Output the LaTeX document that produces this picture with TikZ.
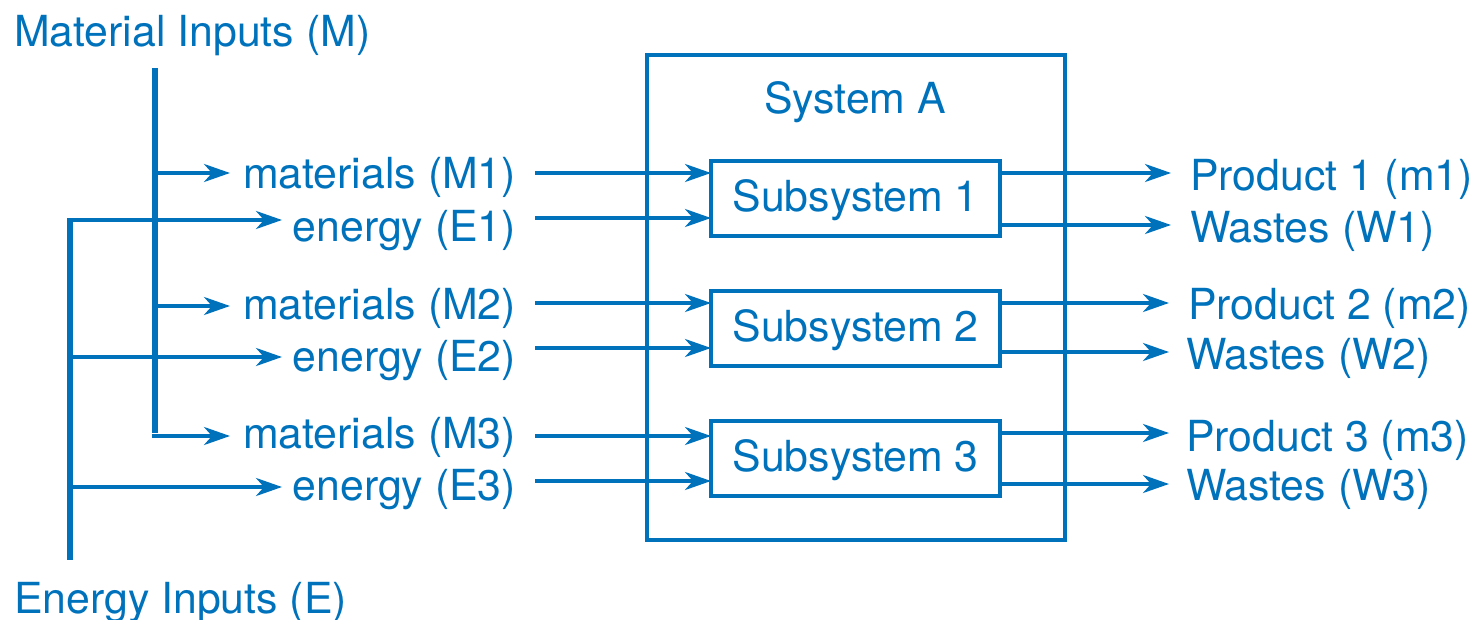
\documentclass[tikz,border=0pt]{standalone}
\usepackage{fontspec}
\setmainfont{TeX Gyre Heros}
\usetikzlibrary{arrows.meta}
\definecolor{flowblue}{RGB}{0,114,188}
\begin{document}
\begin{tikzpicture}[x=1bp,y=-1bp,
  every node/.style={text=flowblue, font=\fontsize{42.8bp}{50bp}\selectfont, inner sep=0pt, outer sep=0pt},
  arr/.style={draw=flowblue, line width=3.6bp, -{Stealth[length=26bp,width=18bp,inset=8bp]}},
  rail/.style={draw=flowblue, line width=5.5bp},
  outerbox/.style={draw=flowblue, line width=4bp},
  subbox/.style={draw=flowblue, line width=3.5bp, minimum width=289bp, minimum height=75bp},
  lblin/.style={anchor=base east},
  lblout/.style={anchor=base west}]
\useasboundingbox (0,0) rectangle (1473,620);

% input headings
\node[anchor=base west] (mhead) at (14,47) {Material Inputs (M)};
\node[anchor=base west] (ehead) at (14,613) {Energy Inputs (E)};

% system and subsystems
\node[outerbox, minimum width=418bp, minimum height=485bp, anchor=north west] (sysA) at (647,55) {};
\node (sysname) at (855,102) {System A};
\node[subbox] (s1) at (855.5,198.5) {};
\node[subbox] (s2) at (855.5,328.5) {};
\node[subbox] (s3) at (855.5,458.5) {};
\node (t1) at ([yshift=-1.5bp]s1.center) {Subsystem 1};
\node (t2) at ([yshift=-1.5bp]s2.center) {Subsystem 2};
\node (t3) at ([yshift=-1.5bp]s3.center) {Subsystem 3};

% input labels
\node[lblin] (m1) at (516,189) {materials (M1)};
\node[lblin] (e1) at (516,241) {energy (E1)};
\node[lblin] (m2) at (516,319) {materials (M2)};
\node[lblin] (e2) at (516,371) {energy (E2)};
\node[lblin] (m3) at (516,448) {materials (M3)};
\node[lblin] (e3) at (516,500) {energy (E3)};

% output labels
\node[lblout] (p1) at (1190,191) {Product 1 (m1)};
\node[lblout] (w1) at (1190,242) {Wastes (W1)};
\node[lblout] (p2) at (1188,319) {Product 2 (m2)};
\node[lblout] (w2) at (1186,369) {Wastes (W2)};
\node[lblout] (p3) at (1186,451) {Product 3 (m3)};
\node[lblout] (w3) at (1186,500) {Wastes (W3)};

% material rail and branches
\coordinate (mtop) at (155,68);
\coordinate (mb1) at (155,173);
\coordinate (mb2) at (155,306);
\coordinate (mb3) at (155,436);
\draw[rail] (mtop) -- ([yshift=2.75bp]mb3);
\draw[arr] ([xshift=-2.75bp]mb1) -- (230,173);
\draw[arr] ([xshift=-2.75bp]mb2) -- (230,306);
\draw[arr] ([xshift=-2.75bp]mb3) -- (230,436);

% energy rail and branches
\coordinate (etop) at (70,218);
\coordinate (eb1) at (70,220);
\coordinate (eb2) at (70,357);
\coordinate (eb3) at (70,487);
\coordinate (ebot) at (70,560);
\draw[rail] (etop) -- (ebot);
\draw[arr] (eb1) -- (282,220);
\draw[arr] (eb2) -- (282,357);
\draw[arr] (eb3) -- (282,487);

% flows into the subsystems
\coordinate (im1) at (535,173);
\coordinate (ie1) at (535,218);
\coordinate (im2) at (535,303);
\coordinate (ie2) at (535,348);
\coordinate (im3) at (535,436);
\coordinate (ie3) at (535,481);
\draw[arr] (im1) -- (s1.west |- im1);
\draw[arr] (ie1) -- (s1.west |- ie1);
\draw[arr] (im2) -- (s2.west |- im2);
\draw[arr] (ie2) -- (s2.west |- ie2);
\draw[arr] (im3) -- (s3.west |- im3);
\draw[arr] (ie3) -- (s3.west |- ie3);

% flows out of the subsystems
\coordinate (op1) at (1171,173);
\coordinate (ow1) at (1171,225);
\coordinate (op2) at (1169,303);
\coordinate (ow2) at (1169,352);
\coordinate (op3) at (1169,433);
\coordinate (ow3) at (1169,484);
\draw[arr] (s1.east |- op1) -- (op1);
\draw[arr] (s1.east |- ow1) -- (ow1);
\draw[arr] (s2.east |- op2) -- (op2);
\draw[arr] (s2.east |- ow2) -- (ow2);
\draw[arr] (s3.east |- op3) -- (op3);
\draw[arr] (s3.east |- ow3) -- (ow3);
\end{tikzpicture}
\end{document}
